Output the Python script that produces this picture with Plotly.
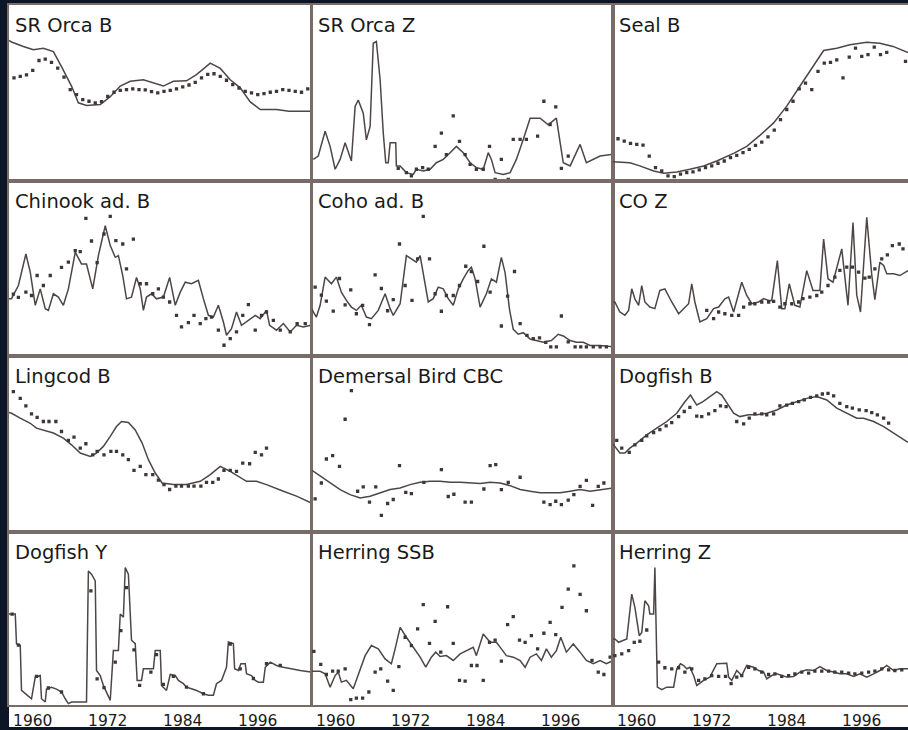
import plotly.graph_objects as go

# ---------------- DATA (values in % of panel height) ----------------
TICK_YEARS = [1960, 1972, 1984, 1996]
TICK_LABELS = ["1960", "1972", "1984", "1996"]

TITLES = ["SR Orca B", "SR Orca Z", "Seal B",
          "Chinook ad. B", "Coho ad. B", "CO Z",
          "Lingcod B", "Demersal Bird CBC", "Dogfish B",
          "Dogfish Y", "Herring SSB", "Herring Z"]

# 1 SR Orca B
orca_b_line_yr = [1956.2, 1956.6, 1958.5, 1960.1, 1961.7, 1963.3, 1964.6, 1966.2, 1967.3, 1968.6, 1970.8, 1972.4, 1974.0, 1975.6, 1977.7, 1979.3, 1980.9, 1982.5, 1984.6, 1986.2, 1988.4, 1990.0, 1991.6, 1993.2, 1994.8, 1996.4, 1999.0, 2001.0, 2004.5]
orca_b_line_val = [80, 79, 76.5, 74.6, 75.5, 73.6, 65, 54, 44.5, 43, 43.5, 48, 54, 56.7, 57.6, 56, 54, 56.7, 57, 60.5, 67, 64, 57.6, 53, 45, 40.7, 40.7, 39.7, 39.7]
orca_b_dot_yr = list(range(1957, 2005))
orca_b_dot_val = [58.6, 59.5, 60.3, 62.9, 68.5, 69.3, 67.4, 64.2, 59.1, 52, 49.2, 46.3, 45.4, 44.4, 45.2, 48.2, 50.5, 51.6, 52, 52.4, 52, 51.8, 50.8, 50.1, 51, 51.6, 52.4, 53.5, 54.6, 56.1, 58.6, 60.6, 61, 59.5, 57.3, 54.8, 52.9, 51, 50.1, 49.2, 49.7, 50.5, 51, 52, 51.6, 51, 50.5, 52.4]

# 2 SR Orca Z
orca_z_line_yr = [1956.4, 1957.2, 1958.3, 1959.1, 1959.9, 1960.7, 1961.5, 1962.2, 1962.5, 1963.1, 1963.6, 1964.4, 1964.9, 1965.5, 1966.0, 1966.5, 1967.1, 1967.6, 1968.0, 1968.4, 1968.7, 1969.6, 1969.7, 1970.3, 1971.3, 1972.4, 1972.9, 1974.0, 1975.1, 1976.1, 1977.2, 1978.3, 1979.3, 1980.4, 1981.5, 1982.5, 1983.6, 1984.4, 1984.9, 1985.5, 1986.8, 1987.9, 1988.9, 1990.0, 1991.1, 1992.7, 1994.0, 1995.3, 1996.4, 1997.5, 1999.1, 2000.1, 2001.2, 2002.3, 2004.4]
orca_z_line_val = [12.4, 14.3, 28.4, 19.8, 6.8, 12.4, 21.8, 14.3, 11.5, 42.4, 46.1, 38.6, 23.5, 31.1, 78.3, 79.3, 57.6, 27.5, 10.5, 10.5, 21.8, 21.8, 8.7, 8.7, 4.9, 3.9, 6.8, 5.8, 6.8, 10.5, 12.4, 16.2, 19.8, 16.2, 10.5, 7.7, 6.8, 16.2, 12.4, 4.9, 3.9, 4.9, 12.4, 23.7, 35.8, 35.8, 32, 35.8, 10.5, 8.7, 20.9, 10.5, 12.4, 14.3, 15.3]
orca_z_dot_yr = [1970.0, 1971.3, 1972.1, 1972.9, 1973.9, 1974.8, 1975.9, 1976.9, 1977.7, 1978.8, 1979.8, 1980.7, 1981.5, 1982.5, 1983.6, 1984.6, 1985.5, 1986.5, 1987.6, 1988.4, 1989.5, 1990.5, 1992.3, 1993.3, 1994.3, 1995.2, 1996.1, 1997.2]
orca_z_dot_val = [7.3, 4.9, 3.0, 6.8, 7.7, 6.8, 19.8, 27.3, 15.1, 37.1, 22.6, 15.1, 9.6, 6.8, 6.8, 19.8, 1.1, 12.4, 1.1, 23.7, 23.7, 23.7, 25.6, 45.4, 32.2, 42.2, 7.3, 14.3]

# 3 Seal B
seal_b_line_yr = [1956.2, 1956.5, 1958.9, 1960.5, 1962.7, 1964.3, 1966.4, 1968.5, 1970.7, 1972.8, 1975.5, 1977.6, 1979.7, 1981.9, 1984.0, 1986.1, 1988.3, 1989.9, 1992.0, 1994.1, 1996.8, 1998.9, 2001.0, 2003.4]
seal_b_line_val = [11, 10.9, 10.5, 8.7, 5.8, 4.5, 5.3, 6.8, 8.7, 11.5, 15.8, 19.8, 26, 33.1, 42.6, 53.9, 66.1, 74.2, 75.5, 77.4, 78.9, 78.3, 76.5, 73]
seal_b_dot_yr = list(range(1957, 2001)) + [2003]
seal_b_dot_val = [24.1, 22.8, 21.5, 20.9, 20.5, 14.3, 7.7, 5.8, 3.0, 2.6, 4.0, 4.9, 5.3, 6.4, 7.7, 8.7, 10.2, 11.5, 13.4, 14.7, 16.2, 18.1, 20.3, 22.2, 25.2, 29, 35, 40.7, 45.4, 52.4, 55.7, 52, 62.3, 67, 67.4, 68.9, 58.6, 70.4, 75.5, 70.8, 71.8, 76.1, 71.8, 73.1, 68]

# 4 Chinook ad. B
chinook_line_yr = [1956.2, 1956.6, 1957.7, 1958.9, 1959.6, 1960.4, 1961.2, 1962.0, 1962.5, 1963.3, 1964.1, 1964.9, 1965.7, 1966.8, 1967.8, 1968.6, 1969.6, 1970.5, 1971.6, 1972.4, 1973.2, 1973.7, 1974.4, 1975.0, 1975.8, 1976.6, 1977.2, 1977.7, 1978.2, 1979.0, 1979.8, 1980.9, 1981.9, 1982.8, 1983.6, 1984.4, 1985.4, 1986.5, 1987.3, 1988.1, 1988.9, 1989.7, 1990.5, 1991.0, 1991.8, 1992.6, 1993.4, 1994.5, 1995.6, 1996.4, 1997.4, 1997.9, 1999.0, 2000.1, 2001.2, 2002.2, 2003.3, 2004.5]
chinook_line_val = [33, 33, 40.5, 58.5, 48.1, 29.2, 38.6, 27.3, 26.3, 35.8, 33.9, 29.2, 38.6, 59.5, 52.8, 52.8, 38.6, 57.6, 74.6, 63.3, 56.6, 57.6, 46.2, 32.9, 33.9, 45.1, 38.6, 26.3, 33.9, 35.8, 32.9, 33.9, 45.1, 29.2, 36.7, 42.4, 41.5, 43.4, 33, 23.5, 22.5, 29.2, 19.7, 12.1, 15.9, 25.4, 17.8, 20.6, 23.5, 21.6, 26.3, 17.8, 15, 18.8, 14, 17.8, 16.9, 17.8]
chinook_dot_yr = [1956.9, 1957.7, 1958.9, 1959.8, 1960.7, 1961.7, 1962.8, 1964.6, 1965.7, 1966.8, 1967.6, 1968.5, 1969.4, 1970.3, 1971.4, 1972.4, 1973.3, 1974.4, 1975.0, 1976.1, 1977.2, 1978.2, 1979.2, 1980.1, 1980.9, 1981.9, 1983.0, 1983.8, 1984.9, 1985.8, 1986.8, 1987.7, 1988.6, 1989.7, 1990.6, 1991.6, 1992.6, 1993.6, 1994.5, 1995.6, 1996.6, 1997.4, 1998.5, 1999.6, 2001.2, 2002.3, 2003.6]
chinook_dot_val = [35.6, 33.7, 36.7, 34.8, 46.2, 40.5, 46.2, 50.9, 53.8, 60.4, 59.8, 78.8, 65.9, 53.6, 69.9, 79.9, 66.1, 64.2, 50, 67, 41.5, 41.5, 35.8, 38.6, 33.9, 31.1, 23.5, 16.9, 19.3, 23.5, 18.8, 21.6, 22.5, 15, 6.4, 10.2, 14, 23.5, 29.6, 15, 23.5, 25.4, 20.6, 15, 14, 18.8, 18.8]

# 5 Coho ad. B
coho_line_yr = [1956.2, 1956.4, 1956.9, 1957.5, 1958.3, 1959.3, 1960.1, 1960.9, 1961.7, 1962.5, 1963.3, 1964.1, 1964.9, 1965.7, 1966.8, 1967.9, 1968.7, 1969.2, 1970.3, 1971.3, 1972.1, 1972.9, 1973.5, 1974.1, 1974.8, 1975.6, 1976.4, 1977.2, 1978.0, 1978.8, 1979.6, 1980.4, 1981.2, 1981.7, 1982.3, 1983.1, 1984.1, 1984.9, 1985.7, 1986.5, 1987.1, 1987.8, 1988.4, 1989.2, 1990.0, 1991.1, 1992.1, 1993.2, 1994.5, 1995.6, 1996.4, 1997.5, 1998.5, 1999.6, 2000.7, 2002.3, 2004.4]
coho_line_val = [27, 25.4, 22.5, 29.2, 45.3, 41.5, 45.3, 36.7, 32, 28.2, 26.3, 29.2, 22.5, 21.6, 26.3, 35.8, 27.3, 23.5, 30.1, 57.6, 55.7, 53.8, 57.6, 44.3, 31.1, 33, 39.6, 38.6, 33, 29.2, 38.6, 44.3, 49.1, 51, 44.3, 28.2, 35.8, 44.3, 42.4, 56.6, 47.7, 26.9, 15.5, 12.7, 13.6, 10, 9.1, 8.1, 9.1, 12.7, 11.7, 9.1, 8.1, 8.1, 6.3, 6.3, 5.5]
coho_dot_yr = [1956.7, 1957.7, 1958.5, 1959.6, 1960.6, 1961.5, 1962.4, 1963.3, 1964.3, 1965.4, 1966.3, 1967.3, 1968.3, 1969.2, 1970.2, 1971.1, 1972.2, 1973.1, 1974.0, 1975.0, 1975.9, 1976.9, 1977.7, 1978.8, 1979.8, 1980.8, 1981.7, 1982.7, 1983.7, 1984.7, 1986.5, 1987.5, 1988.6, 1989.5, 1990.6, 1991.6, 1992.6, 1993.6, 1994.4, 1995.3, 1996.1, 1997.2, 1998.3, 1999.2, 2000.1, 2001.2, 2002.3, 2003.3]
coho_dot_val = [39.6, 35, 31.6, 25.9, 44.5, 29.5, 38, 24.4, 29.2, 18.2, 46.6, 38.8, 26.1, 32.4, 64.2, 40.5, 32, 55.7, 79.9, 55.7, 35.8, 25.8, 34.8, 34.8, 40.5, 51.5, 48.5, 42.8, 62.9, 36.7, 17.4, 34.5, 48.5, 18.8, 12.1, 10.2, 10.6, 8, 5.5, 5.5, 23.1, 8.3, 5.5, 5.5, 5.5, 5.5, 5.5, 5.5]

# 6 CO Z
coz_line_yr = [1956.2, 1956.5, 1957.3, 1958.1, 1958.7, 1959.2, 1959.7, 1960.3, 1960.8, 1961.3, 1962.1, 1962.9, 1963.7, 1964.5, 1965.6, 1966.7, 1967.5, 1968.3, 1968.8, 1969.3, 1970.1, 1971.2, 1972.3, 1973.1, 1974.1, 1974.7, 1975.5, 1976.8, 1977.6, 1978.4, 1979.5, 1980.3, 1981.1, 1981.6, 1982.5, 1983.2, 1983.7, 1984.4, 1985.3, 1986.1, 1987.2, 1988.2, 1989.3, 1989.9, 1990.6, 1991.4, 1992.8, 1993.8, 1994.6, 1995.2, 1995.8, 1996.8, 1997.6, 1998.1, 1998.9, 1999.5, 2000.0, 2001.1, 2002.1, 2003.4]
coz_line_val = [31, 31.1, 25.4, 23.5, 26.3, 38.6, 32.9, 29.2, 40.5, 31.1, 28.2, 27.3, 37.7, 38.6, 31.1, 24.4, 27.3, 30.1, 41.5, 31.1, 19.7, 21.6, 27.3, 28.2, 32.9, 33.9, 25.4, 42.4, 34.8, 30.1, 31.1, 33, 32, 32, 54.7, 27.3, 27.3, 41.5, 29.2, 28.2, 49, 37.7, 37.7, 67, 44.3, 42.4, 61.4, 29.2, 76.5, 35, 25.4, 79.4, 46.6, 32.4, 53.8, 51.9, 47.2, 47.2, 46.2, 49]
coz_dot_yr = [1971.2, 1972.3, 1973.1, 1974.1, 1975.2, 1976.3, 1977.1, 1978.1, 1978.9, 1980.0, 1981.1, 1981.9, 1982.9, 1983.7, 1984.8, 1985.9, 1986.6, 1987.7, 1988.8, 1989.6, 1990.6, 1991.7, 1992.5, 1993.6, 1994.5, 1995.5, 1996.5, 1997.2, 1998.1, 1999.2, 2000.1, 2000.9, 2002.0, 2002.6]
coz_dot_val = [26.3, 21.6, 25.4, 24.4, 23.5, 23.5, 28.2, 30.1, 30.1, 31.1, 31.1, 31.4, 28.2, 30.1, 30.1, 31.1, 33, 33.9, 34.8, 36.7, 40.5, 45.3, 49.1, 51, 51, 48.1, 44.7, 45.3, 50, 55.7, 58, 63.3, 64.2, 61.4]

# 7 Lingcod B
ling_line_yr = [1956.2, 1956.6, 1958.0, 1959.6, 1960.6, 1961.7, 1963.3, 1964.9, 1966.2, 1967.6, 1969.2, 1970.2, 1971.3, 1972.4, 1973.4, 1974.2, 1975.3, 1976.4, 1977.5, 1978.5, 1979.6, 1980.7, 1982.5, 1984.6, 1986.8, 1988.4, 1990.0, 1991.6, 1993.2, 1994.2, 1995.8, 1997.4, 2000.1, 2002.2, 2004.5]
ling_line_val = [68, 67.6, 64.8, 61.9, 59.1, 57.8, 56.3, 53.4, 49.6, 44.9, 43, 44.9, 48.7, 54.4, 60, 62.9, 62.3, 58.1, 50.6, 41.1, 33.5, 27.8, 26.9, 26.9, 28.8, 32.6, 37.3, 34.5, 30.7, 28.8, 28.8, 26.9, 23.1, 20.3, 16.5]
ling_dot_yr = [1956.9, 1958.0, 1958.9, 1959.8, 1960.7, 1961.7, 1962.6, 1963.7, 1964.6, 1965.7, 1966.6, 1967.6, 1968.5, 1969.6, 1970.3, 1971.4, 1972.5, 1973.4, 1974.4, 1975.3, 1976.2, 1977.2, 1978.1, 1979.2, 1980.1, 1981.0, 1981.9, 1982.9, 1983.8, 1984.9, 1985.8, 1986.9, 1987.8, 1988.8, 1989.7, 1990.6, 1991.6, 1992.6, 1993.6, 1994.7, 1995.6, 1996.6, 1997.4]
ling_dot_val = [79.9, 76.1, 71.8, 67.2, 65.3, 62.9, 62.9, 62.9, 57.2, 52.1, 54, 47.7, 50.2, 43.9, 45.8, 43.9, 45.8, 45.8, 43.9, 41.1, 35, 37.3, 32.6, 32.6, 29.4, 26.9, 24.1, 26, 26, 26, 26, 26, 28.2, 28.2, 30.1, 35, 35, 34.5, 39.2, 38.8, 45.3, 43.9, 47.7]

# 8 Demersal Bird CBC
bird_line_yr = [1956.2, 1956.4, 1957.5, 1959.1, 1960.7, 1962.3, 1963.9, 1965.5, 1967.1, 1968.7, 1970.3, 1971.9, 1973.5, 1975.1, 1976.7, 1978.3, 1979.9, 1981.5, 1983.1, 1984.7, 1986.3, 1987.9, 1989.5, 1991.1, 1992.7, 1994.3, 1995.9, 1997.5, 1999.1, 2000.7, 2002.3, 2004.4]
bird_line_val = [35, 34.5, 31.6, 27.8, 24, 21.2, 19.3, 20.3, 22.2, 24.1, 25, 26.9, 28.2, 28.8, 28.8, 28.2, 28.2, 27.8, 27.5, 28.2, 27.8, 26.3, 24.1, 23.1, 22.2, 22.2, 22.2, 23.1, 24.1, 23.1, 24.1, 25]
bird_dot_yr = [1956.7, 1957.7, 1958.5, 1959.5, 1960.6, 1961.5, 1962.5, 1963.5, 1964.4, 1965.4, 1966.4, 1967.3, 1968.3, 1969.2, 1970.2, 1971.2, 1972.1, 1974.1, 1976.9, 1978.0, 1978.9, 1980.7, 1981.7, 1983.7, 1984.7, 1985.6, 1986.5, 1987.6, 1989.5, 1993.3, 1994.3, 1995.2, 1996.1, 1997.2, 1998.1, 1999.1, 2000.1, 2001.1, 2002.0, 2002.9]
bird_dot_val = [18.8, 27.8, 41.5, 43.4, 37.3, 64.2, 80.5, 23.1, 25.6, 16.9, 25.6, 9.3, 16.1, 18.4, 37.7, 22.5, 21.8, 28.2, 35.5, 20.1, 21.4, 16.9, 16.9, 24.4, 37.7, 38.3, 24, 28.2, 31.1, 16.9, 15.5, 17.4, 15.5, 18, 21.2, 25.9, 29.3, 15, 25.9, 27.8]

# 9 Dogfish B
dogb_line_yr = [1956.2, 1956.5, 1957.3, 1958.1, 1958.9, 1960.0, 1961.6, 1963.2, 1964.8, 1966.4, 1967.7, 1968.6, 1969.6, 1970.6, 1971.7, 1972.8, 1973.6, 1974.4, 1975.5, 1976.5, 1977.9, 1979.2, 1980.8, 1982.4, 1984.0, 1985.6, 1987.2, 1988.8, 1990.4, 1992.0, 1993.6, 1995.2, 1996.3, 1997.9, 1999.5, 2001.1, 2003.4]
dogb_line_val = [50, 48.7, 44.9, 44.9, 47.7, 50.6, 55.3, 59.1, 62.9, 67.6, 74.2, 78, 72.3, 74.2, 77.1, 79.9, 78, 73.3, 67.6, 65.7, 66.7, 66.7, 67.6, 69.5, 72.3, 74.2, 76.1, 77.1, 75.2, 70.5, 67.6, 64.8, 64.8, 62.9, 60, 56.3, 51]
dogb_dot_yr = [1956.8, 1957.6, 1958.8, 1959.7, 1960.8, 1961.6, 1962.7, 1963.7, 1964.7, 1965.6, 1966.7, 1967.6, 1968.5, 1969.6, 1970.4, 1971.5, 1972.5, 1973.4, 1974.3, 1976.0, 1977.1, 1978.0, 1978.9, 1980.0, 1980.8, 1981.9, 1982.9, 1984.0, 1984.9, 1985.9, 1986.8, 1987.8, 1988.8, 1989.7, 1990.6, 1991.5, 1992.5, 1993.6, 1994.5, 1995.6, 1996.7, 1997.6, 1998.5, 1999.5, 2000.3]
dogb_dot_val = [52.1, 47.7, 45.3, 49.6, 52.1, 54.7, 56.6, 58.3, 60.4, 62.3, 65.7, 68.6, 71, 66, 65.7, 67.2, 69.1, 71.8, 71.4, 62.9, 61.5, 64.8, 67.2, 67.2, 66.7, 67.2, 71.8, 72.3, 73.3, 74.2, 75.2, 76.7, 77.5, 78.6, 79, 77.5, 73.3, 71.4, 70.5, 69.5, 69.1, 68, 66.7, 64.8, 62]

# 10 Dogfish Y
dogy_line_yr = [1956.2, 1956.6, 1957.2, 1957.4, 1958.0, 1958.2, 1958.8, 1959.8, 1960.4, 1961.2, 1961.4, 1962.0, 1962.2, 1963.0, 1963.8, 1964.6, 1965.2, 1965.7, 1966.2, 1968.6, 1968.9, 1969.4, 1970.0, 1970.2, 1970.8, 1971.3, 1972.4, 1972.9, 1973.7, 1974.0, 1974.5, 1974.8, 1975.3, 1975.8, 1976.4, 1976.7, 1977.4, 1977.7, 1979.3, 1979.6, 1980.4, 1980.6, 1981.4, 1982.0, 1982.8, 1983.3, 1984.1, 1984.6, 1985.4, 1986.2, 1987.3, 1988.1, 1988.9, 1989.4, 1990.2, 1991.0, 1991.3, 1992.1, 1992.3, 1992.9, 1993.3, 1994.0, 1994.2, 1995.0, 1995.6, 1996.1, 1996.9, 1997.2, 1998.0, 1999.0, 2000.1, 2001.2, 2002.8, 2004.5]
dogy_line_val = [52.5, 52.5, 52.5, 35.4, 34.5, 8.4, 6.5, 3.6, 16.1, 17, 3.6, 1.7, 9.2, 10.2, 9.2, 7.5, 3.6, 0.8, 1.7, 1.7, 77.4, 75.5, 71.6, 19.9, 17, 11.3, 2.7, 31.4, 31.4, 52.5, 50.6, 79.3, 75.5, 37.4, 35.4, 14.2, 14.2, 20.9, 20.9, 31.4, 31.4, 11.3, 8.4, 17.6, 17, 14.2, 12.3, 10.3, 9.4, 8.4, 6.5, 5.6, 5.6, 12.3, 14.2, 21.8, 36.4, 35.4, 20.9, 19.9, 23.8, 23.8, 18, 17, 14.2, 13.2, 13.2, 21.8, 24.7, 22.8, 21.8, 20.9, 19.9, 19]
dogy_dot_yr = [1956.7, 1957.7, 1960.6, 1962.5, 1964.6, 1969.3, 1970.3, 1971.4, 1973.2, 1974.1, 1975.0, 1976.2, 1977.1, 1978.9, 1979.8, 1980.9, 1982.5, 1984.6, 1987.3, 1991.6, 1993.2, 1995.3, 1997.4, 1999.6]
dogy_dot_val = [52.5, 34.5, 16.5, 9.8, 7.5, 65.9, 15.1, 10, 24.7, 42.9, 67.8, 31.8, 11.3, 19, 29.1, 11.9, 16.5, 10.3, 6.5, 35.2, 20.9, 15.3, 23.8, 22.8]

# 11 Herring SSB
hssb_line_yr = [1956.2, 1956.4, 1957.5, 1958.3, 1959.1, 1959.9, 1960.4, 1960.9, 1961.7, 1962.8, 1963.6, 1964.7, 1965.7, 1966.8, 1967.9, 1968.9, 1969.5, 1970.3, 1971.3, 1972.4, 1973.5, 1974.4, 1975.3, 1976.0, 1976.7, 1977.7, 1978.8, 1979.9, 1980.9, 1982.0, 1982.5, 1983.6, 1984.7, 1985.7, 1986.5, 1987.3, 1988.4, 1989.5, 1990.3, 1991.1, 1992.1, 1992.9, 1993.7, 1994.5, 1995.3, 1996.0, 1996.9, 1998.0, 1999.1, 2000.1, 2001.2, 2002.3, 2003.3, 2004.4]
hssb_line_val = [19.5, 19.5, 19.5, 18, 10.3, 17, 19, 13.2, 14.2, 9.4, 18, 28.5, 34.3, 32.4, 26.6, 23.8, 32.4, 44.8, 39.1, 33.3, 27.6, 21.8, 27.6, 30.5, 28, 28.5, 25.7, 29.5, 31.4, 33.3, 28.5, 41, 36.2, 36.2, 32.4, 28.5, 27.6, 25.7, 21.8, 27.6, 29.5, 25.7, 32.4, 27.6, 31.4, 39.1, 30.5, 35.2, 30.5, 25.7, 23.8, 25.7, 23.8, 25.7]
hssb_dot_yr = [1956.5, 1957.6, 1958.5, 1959.5, 1960.4, 1961.5, 1962.4, 1963.3, 1964.3, 1965.3, 1966.3, 1967.2, 1968.3, 1969.2, 1970.1, 1971.1, 1972.1, 1973.1, 1974.0, 1975.0, 1975.9, 1976.8, 1977.9, 1978.8, 1979.8, 1980.7, 1981.7, 1982.6, 1983.6, 1984.6, 1985.5, 1986.5, 1987.5, 1988.4, 1989.4, 1990.3, 1991.3, 1992.3, 1993.3, 1994.3, 1995.2, 1996.2, 1997.2, 1998.1, 1999.1, 2000.1, 2001.0, 2002.0, 2002.9, 2003.9]
hssb_dot_val = [31, 23.4, 17.6, 19.5, 19.5, 20.9, 3.1, 4, 4, 7.5, 19, 20.9, 13.8, 8.4, 22.2, 39.1, 34.3, 43.9, 57.9, 35.6, 48.3, 30.5, 56.7, 35.6, 14.2, 13.8, 22.8, 22.8, 14.2, 36.2, 37.5, 25.3, 46.4, 51, 37.5, 36.2, 40, 32.4, 41.4, 47.7, 40.6, 56.3, 66.9, 80.3, 63.9, 54.4, 25.7, 19, 17.6, 27.6]

# 12 Herring Z
hz_line_yr = [1956.2, 1956.5, 1957.1, 1957.9, 1958.4, 1959.2, 1959.7, 1960.4, 1960.8, 1961.3, 1961.9, 1962.1, 1962.7, 1962.9, 1963.1, 1963.2, 1963.3, 1964.0, 1964.8, 1965.9, 1966.4, 1967.0, 1967.5, 1968.0, 1968.5, 1969.1, 1969.6, 1970.7, 1971.7, 1972.8, 1974.4, 1974.7, 1975.2, 1976.0, 1976.8, 1977.6, 1978.7, 1979.5, 1980.3, 1980.8, 1981.6, 1982.4, 1983.2, 1984.0, 1985.1, 1986.1, 1987.2, 1988.3, 1989.3, 1990.4, 1991.5, 1992.5, 1993.6, 1994.7, 1995.7, 1996.8, 1997.9, 1998.9, 2000.0, 2001.1, 2002.1, 2003.4]
hz_line_val = [38, 38.1, 36.2, 37.2, 38.1, 64, 56.3, 40, 41.9, 60.2, 57.3, 52.5, 52.5, 79.3, 50.6, 24.7, 10.3, 8.8, 10.3, 10.3, 20.9, 23.8, 22.8, 20.9, 21.8, 17, 11.3, 14.2, 16.1, 23.8, 24.1, 16.1, 14.2, 19.9, 17, 22.8, 21.8, 19.9, 19, 15.1, 17, 18, 17, 16.1, 16.5, 19, 20.3, 19.9, 22.2, 19.9, 19, 18, 18, 16.5, 18, 16.1, 18, 19.9, 22.8, 19.9, 20.9, 20.9]
hz_dot_yr = [1956.5, 1957.6, 1958.7, 1959.6, 1960.5, 1961.6, 1963.5, 1964.5, 1965.6, 1966.7, 1967.7, 1968.8, 1969.9, 1970.9, 1972.0, 1973.1, 1974.2, 1975.1, 1976.0, 1976.8, 1977.9, 1978.9, 1980.0, 1981.1, 1982.1, 1983.2, 1984.3, 1985.3, 1986.4, 1987.5, 1988.5, 1989.6, 1990.7, 1991.7, 1992.8, 1993.9, 1994.9, 1996.0, 1997.1, 1998.1, 1999.2, 2000.3, 2001.3, 2002.4]
hz_dot_val = [28.5, 29.5, 31.4, 36.2, 36.8, 43.3, 24.7, 21.5, 20.9, 21.5, 19, 20.9, 14.2, 15.1, 17, 16.5, 16.5, 12.3, 16.1, 17, 21.8, 20.9, 19, 17.6, 18, 16.5, 17, 18, 19, 18.4, 19.5, 19.5, 19.5, 19, 19, 18.4, 18, 18.4, 19, 19.5, 20.9, 20.3, 19.9, 20.3]

PANEL_DATA = [
    (orca_b_line_yr, orca_b_line_val, orca_b_dot_yr, orca_b_dot_val),
    (orca_z_line_yr, orca_z_line_val, orca_z_dot_yr, orca_z_dot_val),
    (seal_b_line_yr, seal_b_line_val, seal_b_dot_yr, seal_b_dot_val),
    (chinook_line_yr, chinook_line_val, chinook_dot_yr, chinook_dot_val),
    (coho_line_yr, coho_line_val, coho_dot_yr, coho_dot_val),
    (coz_line_yr, coz_line_val, coz_dot_yr, coz_dot_val),
    (ling_line_yr, ling_line_val, ling_dot_yr, ling_dot_val),
    (bird_line_yr, bird_line_val, bird_dot_yr, bird_dot_val),
    (dogb_line_yr, dogb_line_val, dogb_dot_yr, dogb_dot_val),
    (dogy_line_yr, dogy_line_val, dogy_dot_yr, dogy_dot_val),
    (hssb_line_yr, hssb_line_val, hssb_dot_yr, hssb_dot_val),
    (hz_line_yr, hz_line_val, hz_dot_yr, hz_dot_val),
]

# ---------------- LAYOUT ----------------
W, H = 908, 730
ML, MR, MT, MB = 9, 0, 5, 22
PW, PH = W - ML - MR, H - MT - MB
COL_PX = [(9, 311), (312, 613), (613, 908)]
ROW_PX = [(5, 182), (182, 358), (358, 534), (534, 708)]
X0 = 1956.2
PX_PER_YR = 6.25

NAVY = "#0c1626"
FRAME = "#776c68"
LINE_C = "#4e4646"
DOT_C = "#3e3737"

fig = go.Figure()
layout = dict(
    width=W, height=H,
    margin=dict(l=ML, r=MR, t=MT, b=MB, pad=0),
    paper_bgcolor=NAVY, plot_bgcolor="white",
    showlegend=False,
    font=dict(family="DejaVu Sans", color="#222222"),
    annotations=[], shapes=[],
)

# white strip under the bottom row for tick labels
layout["shapes"].append(dict(type="rect", xref="paper", yref="paper",
                             x0=0, x1=1, y0=-MB / PH, y1=0,
                             fillcolor="white", line=dict(width=0), layer="below"))

for i, (title, (lx, ly, dx, dy)) in enumerate(zip(TITLES, PANEL_DATA)):
    r, c = divmod(i, 3)
    n = i + 1
    xa = "x" if n == 1 else f"x{n}"
    ya = "y" if n == 1 else f"y{n}"
    left, right = COL_PX[c]
    top, bot = ROW_PX[r]
    xdom = [(left - ML) / PW, (right - ML) / PW]
    ydom = [(H - MB - bot) / PH, (H - MB - top) / PH]
    xr = [X0, X0 + (right - left) / PX_PER_YR]

    fig.add_trace(go.Scatter(x=lx, y=ly, mode="lines", xaxis=xa, yaxis=ya,
                             line=dict(color=LINE_C, width=1.5), hoverinfo="skip"))
    fig.add_trace(go.Scatter(x=dx, y=dy, mode="markers", xaxis=xa, yaxis=ya,
                             marker=dict(color=DOT_C, size=3.3, symbol="square"),
                             hoverinfo="skip"))

    xkey = "xaxis" if n == 1 else f"xaxis{n}"
    ykey = "yaxis" if n == 1 else f"yaxis{n}"
    layout[xkey] = dict(domain=xdom, range=xr, anchor=ya,
                        showgrid=False, zeroline=False, showline=True, mirror=True,
                        linecolor=FRAME, linewidth=2, ticks="",
                        tickvals=TICK_YEARS, ticktext=TICK_LABELS,
                        showticklabels=(r == 3),
                        tickfont=dict(size=15.5, color="#1a1a1a", family="DejaVu Sans"))
    layout[ykey] = dict(domain=ydom, range=[0, 100], anchor=xa,
                        showgrid=False, zeroline=False, showline=True,
                        mirror=(c != 2), side="left",
                        linecolor=FRAME, linewidth=2, ticks="", showticklabels=False)
    layout["annotations"].append(dict(
        text=title, xref="paper", yref="paper",
        x=(left + 4 - ML) / PW, y=(H - MB - (top + 20.5)) / PH,
        xanchor="left", yanchor="middle", showarrow=False,
        font=dict(size=19.5, color="#1a1a1a", family="DejaVu Sans")))

fig.update_layout(**layout)
fig.write_html("out.html")
